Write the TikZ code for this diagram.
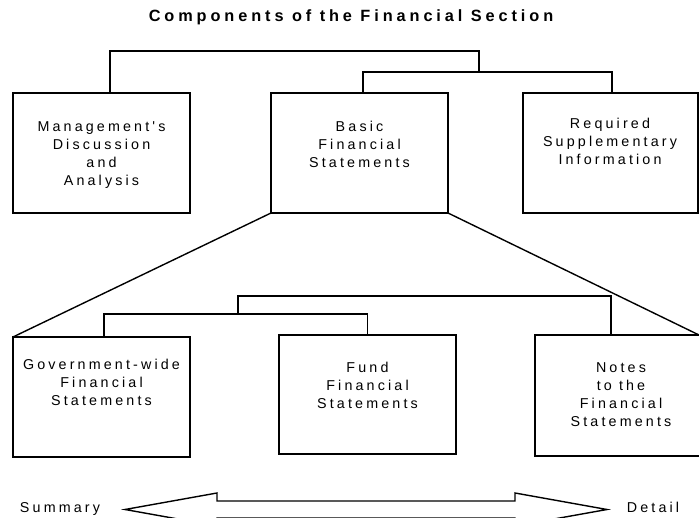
\documentclass[tikz,border=0pt]{standalone}
\usepackage{fontspec}
\setmainfont{Liberation Sans}[LetterSpace=22]
\newfontfamily\titlefont{Liberation Sans}[LetterSpace=24]
\newfontfamily\apfont{Liberation Sans}[LetterSpace=22,Ligatures=TeXOff]
\begin{document}
\begin{tikzpicture}[x=1pt,y=-1pt,
  box/.style={draw,line width=1.4pt,rectangle,inner sep=0pt,outer sep=0pt},
  txt/.style={anchor=north,align=center,inner sep=0pt,font=\fontsize{14.3}{18}\selectfont},
  conn/.style={line width=1.4pt},
  lbl/.style={inner sep=0pt,font=\fontsize{14.3}{18}\selectfont}]
\useasboundingbox (0,0) rectangle (699,518);
\clip (0,0) rectangle (699,518);
\node[font=\titlefont\bfseries\fontsize{16.3}{18}\selectfont,inner sep=0pt] (title) at (351,17) {Components of the Financial Section};
% top row
\node[box,minimum width=177pt,minimum height=120pt] (m) at (101.5,153) {};
\node[box,minimum width=177pt,minimum height=120pt] (b) at (359.5,153) {};
\node[box,minimum width=175pt,minimum height=120pt] (r) at (610.5,153) {};
\node[txt] (mt) at (101.5,121) {{\apfont Management's}\\Discussion\\and\\Analysis};
\node[txt] (bt) at (359.5,121) {Basic\\Financial\\Statements};
\node[txt] (rt) at (610,118) {Required\\Supplementary\\Information};
% bottom row
\node[box,minimum width=177pt,minimum height=120pt] (g) at (101.5,397) {};
\node[box,minimum width=177pt,minimum height=119pt] (f) at (367.5,394.5) {};
\node[box,minimum width=165pt,minimum height=121pt] (n) at (617.5,395.5) {};
\node[txt] (gt) at (101.5,359) {Government-wide\\Financial\\Statements};
\node[txt] (ft) at (367.5,362) {Fund\\Financial\\Statements};
\node[txt] (nt) at (621,362) {Notes\\to the\\Financial\\Statements};
% connectors top
\coordinate (c1) at (110,51);
\coordinate (c2) at (479,51);
\coordinate (c3) at (479,72);
\coordinate (c4) at (363,72);
\coordinate (c5) at (612,72);
\draw[conn] (110,0 |- m.north) -- (c1) -- (c2) -- (c3);
\draw[conn] (363,0 |- b.north) -- (c4) -- (c5) -- (612,0 |- r.north);
% diagonals
\draw[conn] (b.south west) -- (g.north west);
\draw[conn] (b.south east) -- (699,335);
% connectors bottom
\coordinate (d1) at (611,296);
\coordinate (d2) at (238,296);
\coordinate (d3) at (238,314);
\coordinate (d4) at (104,314);
\coordinate (d5) at (367.5,314);
\draw[conn] (611,0 |- n.north) -- (d1) -- (d2) -- (d3);
\draw[conn] (104,0 |- g.north) -- (d4) -- (d5) -- (f.north);
% double arrow
\draw[line width=1.4pt,line join=miter] (125,509.5) -- (217,493) -- (217,501) -- (515,501) -- (515,493) -- (607,509.5) -- (515,526) -- (515,518) -- (217,518) -- (217,526) -- cycle;
\node[lbl] (sum) at (60,509) {Summary};
\node[lbl] (det) at (653,507) {Detail};
\end{tikzpicture}
\end{document}
